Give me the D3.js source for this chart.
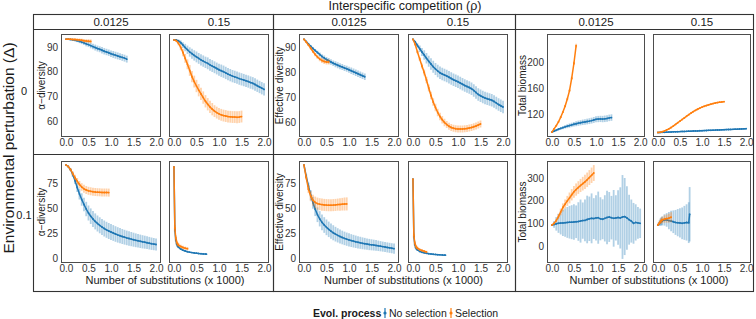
<!DOCTYPE html>
<html><head><meta charset="utf-8">
<script src="https://cdn.jsdelivr.net/npm/d3@7"></script>
<style>body{margin:0;background:#fff}svg{display:block;font-family:"Liberation Sans",Arial,Helvetica,sans-serif}</style>
</head><body><svg id="c" width="756" height="319"></svg>
<script>
// ---------------- data ----------------
const rhoLabels = ["0.0125", "0.15"];
const deltaLabels = ["0", "0.1"];
const metricLabels = ["α−diversity", "Effective diversity", "Total biomass"];
const seriesLabels = ["No selection", "Selection"];
const xTicks = [0, 0.5, 1, 1.5, 2];
const yTicksDiv0 = [60, 70, 80, 90];
const yTicksBio0 = [120, 160, 200];
const yTicksDiv1 = [0, 25, 50, 75];
const yTicksBio1 = [0, 100, 200, 300];

const xs = [0,0.05,0.1,0.15,0.2,0.25,0.3,0.35,0.4,0.45,0.5,0.55,0.6,0.65,0.7,0.75,0.8,0.85,0.9,0.95,1,1.05,1.1,1.15,1.2,1.25,1.3,1.35,1.4,1.45,1.5,1.55,1.6,1.65,1.7,1.75,1.8,1.85,1.9,1.95,2];
const xsEarly = [0,0.02,0.04,0.06,0.08,0.1,0.15,0.2,0.25,0.3,0.35,0.4,0.45,0.5,0.55,0.6,0.65,0.7,0.72];

// Δ = 0, alpha-diversity
const alphaD0R1NoSel = [93.2,93.2,93.1,93.0,92.8,92.6,92.3,92.0,91.7,91.3,91.0,90.6,90.2,89.8,89.4,89.1,88.7,88.3,88.0,87.7,87.3,87.0,86.7,86.4,86.1,85.8,85.5,85.1];
const alphaD0R1NoSelErr = [0.1,0.2,0.3,0.4,0.5,0.6,0.7,0.8,0.9,1.0,1.0,1.1,1.1,1.2,1.2,1.2,1.3,1.3,1.3,1.3,1.3,1.4,1.4,1.4,1.4,1.4,1.4,1.4];
const alphaD0R1Sel = [93.2,93.2,93.2,93.1,93.1,93.0,92.9,92.8,92.6,92.5,92.4,92.3];
const alphaD0R1SelErr = [0.1,0.2,0.3,0.4,0.5,0.5,0.6,0.6,0.7,0.7,0.8,0.8];
const alphaD0R2NoSel = [92.9,92.9,92.5,91.8,90.8,89.8,88.9,88.0,87.3,86.6,86.0,85.4,84.8,84.3,83.8,83.4,82.8,82.3,81.8,81.3,80.8,80.4,80.0,79.5,79.0,78.6,78.2,77.9,77.6,77.2,76.9,76.6,76.3,76.0,75.6,75.3,74.8,74.3,73.8,73.3,72.8];
const alphaD0R2NoSelErr = [0.1,0.3,0.6,0.9,1.2,1.5,1.7,1.9,2.0,2.1,2.2,2.2,2.3,2.3,2.3,2.4,2.4,2.4,2.4,2.4,2.4,2.5,2.5,2.5,2.5,2.5,2.5,2.5,2.5,2.5,2.5,2.5,2.5,2.5,2.5,2.5,2.5,2.5,2.5,2.5,2.5];
const alphaD0R2Sel = [92.9,92.6,91.5,89.9,87.8,85.4,83.0,80.5,78.0,76.0,74.2,72.5,71.0,69.5,68.0,66.8,65.7,64.8,64.0,63.4,62.9,62.5,62.2,62.0,61.8,61.7,61.6,61.6,61.5,61.6,61.8];
const alphaD0R2SelErr = [0.1,0.4,0.8,1.2,1.5,1.8,2.0,2.2,2.3,2.4,2.5,2.5,2.5,2.5,2.5,2.5,2.5,2.5,2.4,2.4,2.4,2.4,2.4,2.4,2.4,2.4,2.4,2.4,2.4,2.4,2.4];

// Δ = 0, effective diversity
const effD0R1NoSel = [93.1,92.2,91.2,90.3,89.4,88.6,87.8,87.0,86.2,85.6,85.0,84.5,84.0,83.5,83.1,82.7,82.3,82.0,81.6,81.3,80.9,80.5,80.1,79.7,79.3,78.9,78.5,78.1];
const effD0R1NoSelErr = [0.1,0.2,0.3,0.4,0.5,0.6,0.7,0.8,0.9,1.0,1.0,1.1,1.1,1.1,1.2,1.2,1.2,1.2,1.2,1.2,1.2,1.3,1.3,1.3,1.3,1.3,1.3,1.3];
const effD0R1Sel = [93.1,92.0,90.8,89.5,88.2,87.0,86.0,85.2,84.6,84.2,84.0,84.0];
const effD0R1SelErr = [0.1,0.2,0.4,0.5,0.6,0.7,0.8,0.9,1.0,1.0,1.0,1.0];
const effD0R2NoSel = [93.1,92.0,90.6,89.3,88.0,86.8,85.5,84.3,83.2,82.1,81.2,80.4,79.7,79.2,78.8,78.4,77.9,77.4,76.9,76.5,76.1,75.6,75.1,74.6,74.2,73.8,73.3,72.6,71.8,71.0,70.5,70.0,69.6,69.3,69.0,68.7,68.2,67.6,67.0,66.5,66.0];
const effD0R2NoSelErr = [0.1,0.5,0.9,1.3,1.6,1.9,2.1,2.2,2.3,2.4,2.4,2.5,2.5,2.5,2.5,2.5,2.5,2.5,2.5,2.5,2.5,2.5,2.5,2.5,2.5,2.5,2.5,2.5,2.5,2.5,2.5,2.5,2.5,2.5,2.5,2.5,2.5,2.5,2.5,2.5,2.5];
const effD0R2Sel = [93.1,91.0,88.0,85.2,82.4,79.8,76.8,73.6,70.6,68.0,65.8,63.8,62.2,60.9,59.8,59.0,58.3,57.8,57.5,57.3,57.2,57.2,57.2,57.3,57.4,57.6,57.8,58.1,58.4,58.8,59.2];
const effD0R2SelErr = [0.1,0.3,0.6,0.8,1.0,1.2,1.3,1.4,1.5,1.5,1.5,1.5,1.5,1.5,1.5,1.4,1.4,1.4,1.4,1.4,1.4,1.4,1.4,1.4,1.4,1.4,1.4,1.4,1.4,1.4,1.4];

// Δ = 0, total biomass
const bioD0R1NoSel = [92,93.5,95,96.5,97.8,99,100.2,101.2,102.2,103.2,104.2,105,105.8,106.5,107.2,107.8,108.4,109,109.8,110.8,111.8,112.2,112.4,112.2,112.6,113.2,114,114.5];
const bioD0R1NoSelErr = [0.2,0.8,1.2,1.6,2,2.4,2.7,3,3.2,3.4,3.6,3.8,4,4,4.2,4.2,4.4,4.5,4.5,4.6,4.7,4.8,4.8,4.9,5,5,5,5];
const bioD0R1Sel = [92,97,102,108,115,123,132,143,156,175,198,225];
const bioD0R1SelErr = [0.2,0.5,0.8,1,1.2,1.5,1.8,2,2.2,2.5,2.8,3];
const bioD0R2NoSel = [91.5,91.7,91.8,91.9,92.0,92.2,92.3,92.5,92.6,92.8,92.9,93.1,93.2,93.3,93.5,93.6,93.8,93.9,94.0,94.2,94.3,94.5,94.6,94.8,94.9,95.1,95.2,95.4,95.5,95.7,95.8,96.0,96.1,96.3,96.4,96.6,96.7,96.9,97.0,97.2,97.4];
const bioD0R2NoSelErr = [0.1,0.2,0.3,0.3,0.4,0.4,0.5,0.5,0.5,0.6,0.6,0.6,0.6,0.7,0.7,0.7,0.7,0.7,0.8,0.8,0.8,0.8,0.8,0.8,0.9,0.9,0.9,0.9,0.9,0.9,0.9,1,1,1,1,1,1,1,1,1,1];
const bioD0R2Sel = [91.5,92.0,92.8,94,95.5,97.2,99.2,101.5,104,106.5,109,111.5,114,116.5,119,121.3,123.5,125.5,127.3,129,130.5,131.8,133,134.1,135.1,136,136.8,137.5,138.1,138.6,139];
const bioD0R2SelErr = [0.1,0.2,0.3,0.4,0.5,0.5,0.6,0.6,0.7,0.7,0.7,0.8,0.8,0.8,0.8,0.9,0.9,0.9,0.9,0.9,1,1,1,1,1,1,1,1,1,1,1];

// Δ = 0.1, alpha-diversity
const alphaD1R1NoSel = [93,91.5,88.5,83.5,77.5,70.5,64,58.5,53.5,49,45,41.8,39,36.6,34.5,32.7,31,29.5,28.2,27,26,25,24,23.1,22.3,21.5,20.8,20.1,19.5,18.9,18.3,17.7,17.2,16.7,16.2,15.8,15.3,14.8,14.3,13.9,13.5];
const alphaD1R1NoSelErr = [0.2,0.8,1.5,2.5,3.5,4.5,5.5,6.2,6.8,7.2,7.5,7.8,8,8,8,8,8,8,8,8,8,7.9,7.8,7.7,7.6,7.5,7.4,7.3,7.2,7.1,7,6.9,6.8,6.7,6.6,6.5,6.4,6.3,6.2,6.1,6];
const alphaD1R1Sel = [93,91.5,88.5,84.5,80.5,76.8,73.5,71,69.2,68,67.2,66.7,66.3,66,65.8,65.7,65.6,65.5,65.5,65.4];
const alphaD1R1SelErr = [0.2,0.8,1.5,2.2,2.8,3.2,3.5,3.8,4,4,4,4,4,4,4,4,4,4,4,4];
const alphaD1R2NoSel = [91,28,18,14,12,10.8,9,7.8,7,6.3,5.8,5.4,5.1,4.8,4.5,4.3,4.1,3.9,3.8];
const alphaD1R2NoSelErr = [0.5,2,1.5,1.2,1,1,0.8,0.7,0.6,0.6,0.5,0.5,0.5,0.5,0.5,0.5,0.5,0.5,0.5];
const alphaD1R2Sel = [91,30,20,16,14,13,11.5,10.5,9.8,9.3];
const alphaD1R2SelErr = [0.5,3,2.5,2.2,2,2,1.8,1.7,1.6,1.5];

// Δ = 0.1, effective diversity
const effD1R1NoSel = [93,82,72,63,55.5,49,43.5,39.5,36,33.3,31,29,27.2,25.6,24.2,23,21.9,20.9,20,19.2,18.5,17.8,17.2,16.6,16.1,15.6,15.1,14.7,14.3,13.9,13.6,13.3,13,12.6,12.2,11.8,11.4,11,10.6,10.2,9.8];
const effD1R1NoSelErr = [0.3,2,3.5,5,6,6.8,7.3,7.6,7.8,7.8,7.8,7.7,7.6,7.5,7.3,7.1,7,6.8,6.7,6.6,6.5,6.4,6.3,6.2,6.1,6,5.9,5.8,5.7,5.6,5.5,5.4,5.3,5.2,5.1,5,5,5,5,5,5];
const effD1R1Sel = [93,80.5,69,62,58,55.8,54.6,54,53.6,53.3,53.1,53,53,53.1,53.3,53.6,53.8,54,54.2,54.3];
const effD1R1SelErr = [0.3,2,4,5,5.5,5.8,6,6,6,6,6,6,6,6,6,6,6.2,6.3,6.5,6.5];
const effD1R2NoSel = [79,22,14,11,9.5,8.5,7,6.2,5.6,5.2,4.8,4.5,4.2,4,3.8,3.6,3.5,3.3,3.3];
const effD1R2NoSelErr = [0.5,2,1.5,1.2,1,0.9,0.8,0.7,0.6,0.6,0.5,0.5,0.5,0.5,0.5,0.5,0.5,0.5,0.5];
const effD1R2Sel = [79,23,15.5,12.5,11,10.2,8.8,8,7.2,6.5];
const effD1R2SelErr = [0.5,2.5,2,1.8,1.6,1.5,1.4,1.3,1.2,1.2];

// Δ = 0.1, total biomass
const bioD1R1NoSel = [92,95,98,100,101,102,103,104,105,105,106,107,108,110,112,113,117,120,122,121,124,125,120,118,122,126,128,125,122,124,126,124,128,130,124,116,110,100,104,102,100];
const bioD1R1NoSelErr = [1,15,30,42,50,58,62,68,72,75,78,72,85,95,80,92,105,98,110,90,100,115,95,88,102,118,110,96,125,100,120,135,185,170,140,110,95,90,80,70,65];
const bioD1R1Sel = [92,100,112,130,150,170,185,199,212,226,239,249,258,267,275,283,292,302,312,322];
const bioD1R1SelErr = [1,5,8,12,15,18,20,22,24,25,26,27,28,29,30,31,32,33,34,35];
const bioD1R2NoSel = [92,97,102,106,109,111,115,115,112,110,107,104,103,102,100,102,104,103,140];
const bioD1R2NoSelErr = [1,8,12,16,18,20,25,30,38,45,50,55,60,65,70,75,80,90,120];
const bioD1R2Sel = [92,98,103,108,112,115,119,121,123,127];
const bioD1R2SelErr = [1,5,8,10,12,14,16,18,20,22];

// ---------------- layout ----------------
const colors = ["#1f77b4", "#ff7f0e"];
const groupX = [[33, 273], [273, 515], [515, 753]];
const panelX = [[[61, 161], [169, 269]], [[299, 399], [408, 508]], [[547, 645], [653, 751]]];
const rowY = [[34, 137], [161, 263]];
const boxTop = 14, stripBottom = 29, rowSep = 154, boxBottom = 291;

const yDomains = [
  [[53.5, 95.3], [54, 95.2], [84.6, 243]],
  [[-5, 97], [-4.5, 97], [-75, 375]]
];
const yTicksAll = [[yTicksDiv0, yTicksDiv0, yTicksBio0], [yTicksDiv1, yTicksDiv1, yTicksBio1]];

const dataAll = [
  [
    [[alphaD0R1NoSel, alphaD0R1NoSelErr, alphaD0R1Sel, alphaD0R1SelErr, xs], [alphaD0R2NoSel, alphaD0R2NoSelErr, alphaD0R2Sel, alphaD0R2SelErr, xs]],
    [[effD0R1NoSel, effD0R1NoSelErr, effD0R1Sel, effD0R1SelErr, xs], [effD0R2NoSel, effD0R2NoSelErr, effD0R2Sel, effD0R2SelErr, xs]],
    [[bioD0R1NoSel, bioD0R1NoSelErr, bioD0R1Sel, bioD0R1SelErr, xs], [bioD0R2NoSel, bioD0R2NoSelErr, bioD0R2Sel, bioD0R2SelErr, xs]]
  ],
  [
    [[alphaD1R1NoSel, alphaD1R1NoSelErr, alphaD1R1Sel, alphaD1R1SelErr, xs], [alphaD1R2NoSel, alphaD1R2NoSelErr, alphaD1R2Sel, alphaD1R2SelErr, xsEarly]],
    [[effD1R1NoSel, effD1R1NoSelErr, effD1R1Sel, effD1R1SelErr, xs], [effD1R2NoSel, effD1R2NoSelErr, effD1R2Sel, effD1R2SelErr, xsEarly]],
    [[bioD1R1NoSel, bioD1R1NoSelErr, bioD1R1Sel, bioD1R1SelErr, xs], [bioD1R2NoSel, bioD1R2NoSelErr, bioD1R2Sel, bioD1R2SelErr, xsEarly]]
  ]
];

const svg = d3.select("#c");
const textCol = "#1a1a1a", tickCol = "#333";
let clipId = 0;

svg.append("text").attr("x", 405).attr("y", 6).attr("dy", "0.35em").attr("text-anchor", "middle")
  .attr("font-size", 12.5).attr("fill", textCol).text("Interspecific competition (ρ)");
svg.append("text").attr("transform", `translate(9,148) rotate(-90)`)
  .attr("dy", "0.35em").attr("text-anchor", "middle").attr("font-size", 15.5).attr("fill", textCol)
  .text("Environmental perturbation (Δ)");
deltaLabels.forEach((d, r) => {
  svg.append("text").attr("x", 24).attr("y", r === 0 ? 91 : 215).attr("dy", "0.35em")
    .attr("text-anchor", "middle").attr("font-size", 11).attr("fill", textCol).text(d);
});

groupX.forEach((gx, g) => {
  svg.append("rect").attr("x", gx[0] + 0.5).attr("y", boxTop + 0.5).attr("width", gx[1] - gx[0])
    .attr("height", boxBottom - boxTop).attr("fill", "none").attr("stroke", "#333").attr("stroke-width", 1.1);
  svg.append("line").attr("x1", gx[0]).attr("x2", gx[1]).attr("y1", stripBottom + 0.5).attr("y2", stripBottom + 0.5)
    .attr("stroke", "#333").attr("stroke-width", 1.1);
  svg.append("line").attr("x1", gx[0]).attr("x2", gx[1]).attr("y1", rowSep + 0.5).attr("y2", rowSep + 0.5)
    .attr("stroke", "#333").attr("stroke-width", 1.1);
  rhoLabels.forEach((lab, c) => {
    const px = panelX[g][c];
    svg.append("text").attr("x", (px[0] + px[1]) / 2).attr("y", (boxTop + stripBottom) / 2 + 0.5).attr("dy", "0.35em")
      .attr("text-anchor", "middle").attr("font-size", 11.5).attr("fill", textCol).text(lab);
  });
  svg.append("text").attr("x", (panelX[g][0][0] + panelX[g][1][1]) / 2).attr("y", 280).attr("dy", "0.35em")
    .attr("text-anchor", "middle").attr("font-size", 11).attr("fill", textCol).text("Number of substitutions (x 1000)");

  rowY.forEach((ry, r) => {
    const y = d3.scaleLinear().domain(yDomains[r][g]).range([ry[1], ry[0]]);
    svg.append("text").attr("transform", `translate(${panelX[g][0][0] - (g === 2 ? 24.5 : 20)},${(ry[0] + ry[1]) / 2}) rotate(-90)`)
      .attr("dy", "0.35em").attr("text-anchor", "middle").attr("font-size", 10).attr("fill", textCol)
      .text(metricLabels[g]);
    const yAxis = d3.axisLeft(y).tickValues(yTicksAll[r][g]).tickSize(0).tickPadding(3).tickFormat(d3.format("d"));
    const ya = svg.append("g").attr("transform", `translate(${panelX[g][0][0]},0)`).call(yAxis);
    ya.select(".domain").remove();
    ya.selectAll("text").attr("font-size", 10).attr("fill", tickCol).attr("font-family", "Liberation Sans, Arial, sans-serif");

    [0, 1].forEach(c => {
      const px = panelX[g][c];
      const x = d3.scaleLinear().domain([-0.11, 2.11]).range([px[0], px[1]]);
      const xa = svg.append("g").attr("transform", `translate(0,${ry[1]})`)
        .call(d3.axisBottom(x).tickValues(xTicks).tickSize(0).tickPadding(1.5).tickFormat(d3.format(".1f")));
      xa.select(".domain").remove();
      xa.selectAll("text").attr("font-size", 10).attr("fill", tickCol).attr("font-family", "Liberation Sans, Arial, sans-serif");

      const id = "clip" + (clipId++);
      svg.append("clipPath").attr("id", id).append("rect")
        .attr("x", px[0]).attr("y", ry[0]).attr("width", px[1] - px[0]).attr("height", ry[1] - ry[0]);
      const pg = svg.append("g").attr("clip-path", `url(#${id})`);
      const [nsV, nsE, sV, sE, xv] = dataAll[r][g][c];
      [[nsV, nsE], [sV, sE]].forEach(([vals, errs], s) => {
        const pts = vals.map((v, i) => ({ x: xv[i], v, e: errs[i] }));
        pg.append("g").selectAll("line").data(pts).join("line")
          .attr("x1", d => x(d.x)).attr("x2", d => x(d.x))
          .attr("y1", d => y(d.v - d.e)).attr("y2", d => y(d.v + d.e))
          .attr("stroke", colors[s]).attr("stroke-opacity", 0.35).attr("stroke-width", 1.8);
        pg.append("path").datum(pts).attr("fill", "none").attr("stroke", colors[s]).attr("stroke-width", 1.5)
          .attr("d", d3.line().x(d => x(d.x)).y(d => y(d.v)));
        pg.append("g").selectAll("circle").data(pts).join("circle")
          .attr("cx", d => x(d.x)).attr("cy", d => y(d.v)).attr("r", 0.9).attr("fill", colors[s]);
      });
      svg.append("rect").attr("x", px[0] + 0.5).attr("y", ry[0] + 0.5).attr("width", px[1] - px[0] - 1)
        .attr("height", ry[1] - ry[0] - 1).attr("fill", "none").attr("stroke", "#4d4d4d").attr("stroke-width", 1);
    });
  });
});

const leg = svg.append("g").attr("transform", "translate(0,313)");
leg.append("text").attr("x", 313).attr("dy", "0.35em").attr("font-size", 10.5).attr("font-weight", "bold")
  .attr("fill", textCol).text("Evol. process");
const legX = [[385, 389], [451, 455]];
seriesLabels.forEach((lab, s) => {
  leg.append("line").attr("x1", legX[s][0]).attr("x2", legX[s][0]).attr("y1", -5).attr("y2", 5)
    .attr("stroke", colors[s]).attr("stroke-width", 1.2);
  leg.append("circle").attr("cx", legX[s][0]).attr("cy", 0).attr("r", 1.6).attr("fill", colors[s]);
  leg.append("text").attr("x", legX[s][1]).attr("dy", "0.35em").attr("font-size", 10.5).attr("fill", textCol).text(lab);
});
</script></body></html>
